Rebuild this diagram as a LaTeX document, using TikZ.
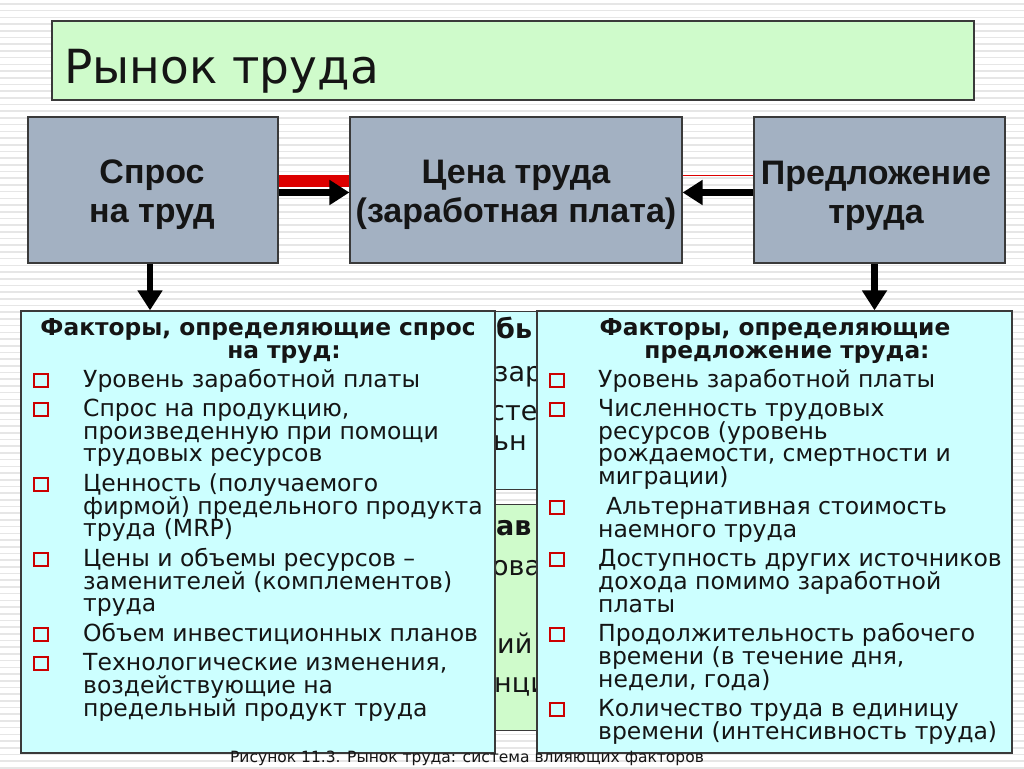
\documentclass[tikz,border=0pt]{standalone}
\usepackage{fontspec}
\setmainfont{DejaVu Sans}
\newfontfamily\arialf{Liberation Sans}
\usetikzlibrary{arrows.meta}
\definecolor{titlegreen}{HTML}{CFFBCB}
\definecolor{boxgray}{HTML}{A3B1C2}
\definecolor{factcyan}{HTML}{CCFFFF}
\definecolor{edge}{HTML}{3A3A3A}
\definecolor{bulletred}{HTML}{CC0000}
\definecolor{stripe}{HTML}{E6E6E6}
\definecolor{ink}{HTML}{151515}
\definecolor{arrred}{HTML}{DD0000}
\newcommand\mlines[1]{\vtop{\lineskiplimit=-1000pt\lineskip=0pt #1}}
\newcommand\cenline[1]{\hbox to 0pt{\hss#1\hss}}
\begin{document}
\begin{tikzpicture}[x=1pt,y=-1pt,
  graybox/.style={draw=edge, line width=1.2pt, fill=boxgray, inner sep=0pt, minimum width=250pt, minimum height=146pt},
  factbox/.style={draw=edge, line width=1.3pt, fill=factcyan, inner sep=0pt},
  hidbox/.style={draw=edge, line width=1pt, inner sep=0pt},
  itemtext/.style={anchor=base west, inner sep=0pt, text=ink, font=\fontsize{23.5}{22.7}\selectfont},
  headtext/.style={anchor=base, inner sep=0pt, text=ink, font=\bfseries\fontsize{23.3}{22}\selectfont},
  boxtext/.style={anchor=base, inner sep=0pt, text=ink, font=\arialf\bfseries\fontsize{34}{39.5}\selectfont},
  hidtext/.style={anchor=base west, inner sep=0pt, text=ink, font=\fontsize{27}{30}\selectfont},
  bulletsq/.style={draw=bulletred, line width=2pt},
  bigarrow/.style={draw=black, line width=7pt, -{Triangle[length=20pt,width=24pt]}},
  downarrow/.style={draw=black, line width=6.5pt, -{Triangle[length=20pt,width=24pt]}}
]
\useasboundingbox (0,0) rectangle (1024,768);
\fill[white] (0,0) rectangle (1024,768);
\foreach \y in {4,10.7,...,768} \draw[stripe, line width=1.6pt] (0,\y) -- (1024,\y);

% title
\node[draw=edge, line width=1.2pt, fill=titlegreen, inner sep=0pt, minimum width=922pt, minimum height=79pt] (titlebox) at (513,60.5) {};
\node[anchor=base west, inner sep=0pt, text=ink, font=\fontsize{47}{50}\selectfont] (titletext) at (64,83) {Рынок труда};

% top boxes
\node[graybox] (spros) at (153,190) {};
\node[graybox, minimum width=332pt] (cena) at (516,190) {};
\node[graybox, minimum width=251pt] (predl) at (879.5,190) {};
\node[boxtext] (sprost) at (152,183) {\mlines{\cenline{Спрос}\cenline{на труд}}};
\node[boxtext] (cenat) at (516,183) {\mlines{\cenline{Цена труда}\cenline{(заработная плата)}}};
\node[boxtext] (predlt) at (876,184) {\mlines{\cenline{Предложение}\cenline{труда}}};

% connectors between top boxes
\fill[arrred] ([yshift=15pt]spros.east) rectangle ([yshift=3pt]cena.west);
\draw[bigarrow] ([yshift=-2.5pt]spros.east) -- ([yshift=-2.5pt]cena.west);
\draw[arrred, line width=0.9pt] ([yshift=15pt]cena.east) -- ([yshift=15pt]predl.west);
\draw[bigarrow] ([yshift=-2.5pt]predl.west) -- ([yshift=-2.5pt]cena.east);

% hidden boxes behind
\node[hidbox, fill=factcyan, minimum width=120pt, minimum height=178pt] (hidA) at (517,400) {};
\node[hidbox, fill=titlegreen, minimum width=120pt, minimum height=226pt] (hidB) at (517,617) {};
\node[hidtext, font=\bfseries\fontsize{27}{30}\selectfont] (h1) at (496,338) {бь};
\node[hidtext] (h2) at (494,381) {зар};
\node[hidtext] (h3) at (490,420) {сте};
\node[hidtext] (h4) at (493,450) {ьн};
\node[hidtext, font=\bfseries\fontsize{27}{30}\selectfont] (h5) at (496,535) {ав};
\node[hidtext] (h6) at (492,575) {ова};
\node[hidtext] (h7) at (497,653) {ий};
\node[hidtext] (h8) at (494,692) {нци};

% factor boxes
\node[factbox, minimum width=474pt, minimum height=442pt] (demand) at (258,532) {};
\node[factbox, minimum width=475pt, minimum height=442pt] (supply) at (774.5,532) {};

% down arrows
\draw[downarrow] ([xshift=-3pt]spros.south) -- ([xshift=-3pt]spros.south |- demand.north);
\draw[downarrow] ([xshift=-5pt]predl.south) -- ([xshift=-5pt]predl.south |- supply.north);

% headers
\node[headtext] (dh1) at (258,335) {Факторы, определяющие спрос};
\node[headtext] (dh2) at (284,358) {на труд:};
\node[headtext] (sh1) at (775,335) {Факторы, определяющие};
\node[headtext] (sh2) at (787,358) {предложение труда:};

% left items
\foreach \b in {387,416.5,491.4,566.3,641.2,670.7}
  \draw[bulletsq] (34,\b-13.5) rectangle (48,\b-0.5);
\node[itemtext] (li1) at (83,387) {\mlines{\hbox{Уровень заработной платы}}};
\node[itemtext] (li2) at (83,416.5) {\mlines{\hbox{Спрос на продукцию,}\hbox{произведенную при помощи}\hbox{трудовых ресурсов}}};
\node[itemtext] (li3) at (83,491.4) {\mlines{\hbox{Ценность (получаемого}\hbox{фирмой) предельного продукта}\hbox{труда (MRP)}}};
\node[itemtext] (li4) at (83,566.3) {\mlines{\hbox{Цены и объемы ресурсов –}\hbox{заменителей (комплементов)}\hbox{труда}}};
\node[itemtext] (li5) at (83,641.2) {\mlines{\hbox{Объем инвестиционных планов}}};
\node[itemtext] (li6) at (83,670.7) {\mlines{\hbox{Технологические изменения,}\hbox{воздействующие на}\hbox{предельный продукт труда}}};

% right items
\foreach \b in {387,416.5,514.5,566.7,641.6,716.5}
  \draw[bulletsq] (550,\b-13.5) rectangle (564,\b-0.5);
\node[itemtext] (ri1) at (598,387) {\mlines{\hbox{Уровень заработной платы}}};
\node[itemtext] (ri2) at (598,416.5) {\mlines{\hbox{Численность трудовых}\hbox{ресурсов (уровень}\hbox{рождаемости, смертности и}\hbox{миграции)}}};
\node[itemtext] (ri3) at (598,514.5) {\mlines{\hbox{\kern8pt Альтернативная стоимость}\hbox{наемного труда}}};
\node[itemtext] (ri4) at (598,566.7) {\mlines{\hbox{Доступность других источников}\hbox{дохода помимо заработной}\hbox{платы}}};
\node[itemtext] (ri5) at (598,641.6) {\mlines{\hbox{Продолжительность рабочего}\hbox{времени (в течение дня,}\hbox{недели, года)}}};
\node[itemtext] (ri6) at (598,716.5) {\mlines{\hbox{Количество труда в единицу}\hbox{времени (интенсивность труда)}}};

% caption
\node[anchor=base, inner sep=0pt, text=ink, font=\fontsize{15.5}{17}\selectfont] (caption) at (467,762) {Рисунок 11.3. Рынок труда: система влияющих факторов};
\end{tikzpicture}
\end{document}
